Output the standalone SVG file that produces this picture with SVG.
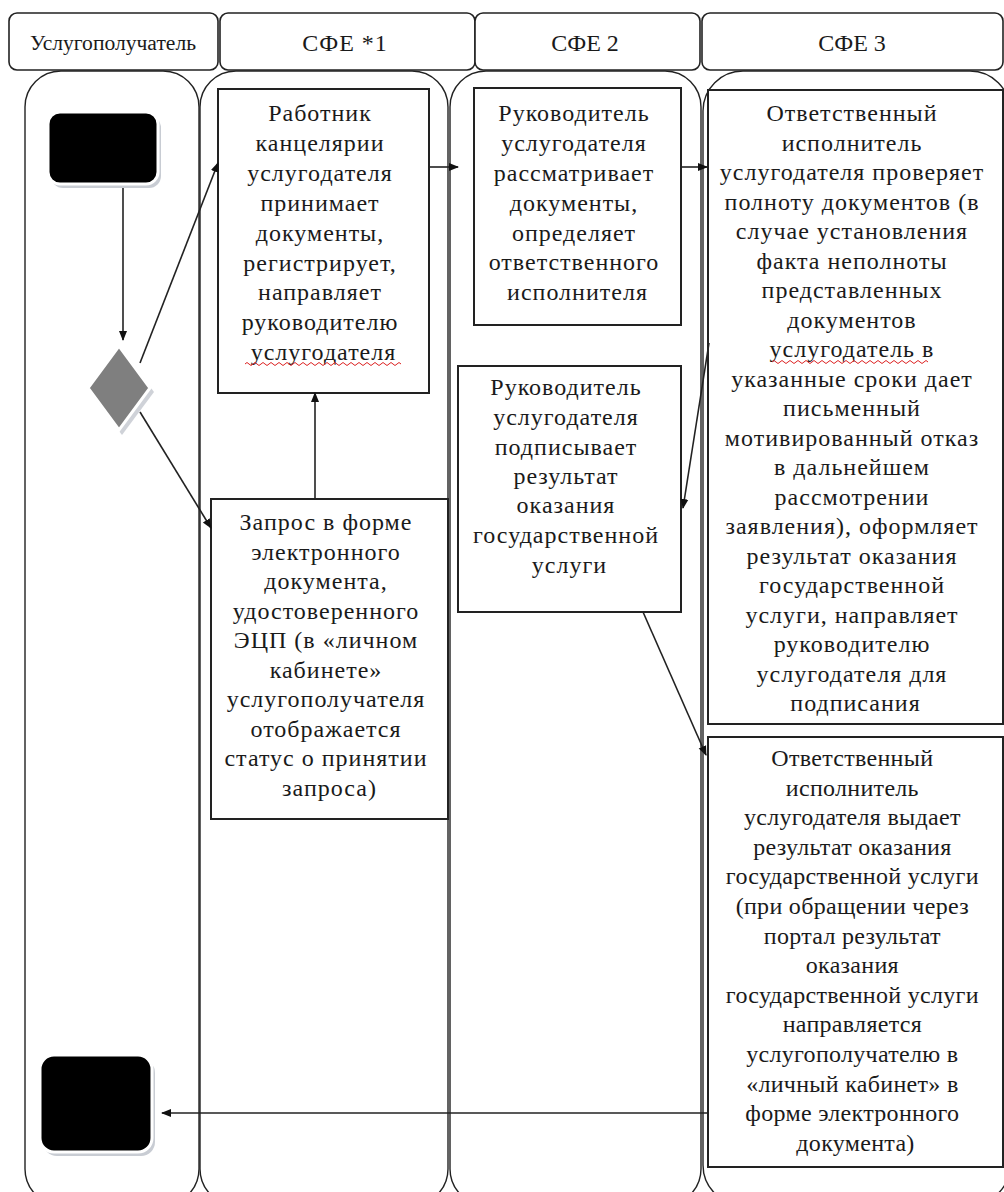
<svg xmlns="http://www.w3.org/2000/svg" width="1004" height="1192" viewBox="0 0 1004 1192">
<style>
.hdr{fill:#fff;stroke:#222;stroke-width:1.6}
.lane{fill:none;stroke:#222;stroke-width:1.4}
.box{fill:#fff;stroke:#222;stroke-width:2}
.ht{font-family:'Liberation Serif',serif;font-size:24px;fill:#1a1a1a;text-anchor:middle}
.t{font-family:'Liberation Serif',serif;font-size:24px;fill:#1a1a1a;text-anchor:middle;letter-spacing:1px}
.c{fill:none;stroke:#222;stroke-width:1.6}
.sq{fill:none;stroke:#d22;stroke-width:1}
</style>
<defs>
<marker id="ah" viewBox="0 0 10 10" refX="9" refY="5" markerWidth="10" markerHeight="10" markerUnits="userSpaceOnUse" orient="auto">
<path d="M0,1 L10,5 L0,9 z" fill="#111"/>
</marker>
</defs>
<rect width="1004" height="1192" fill="#fff"/>

<g id="lanes">
<rect class="lane" x="25" y="71" width="174" height="1134" rx="36" ry="36"/>
<rect class="lane" x="200" y="71" width="248" height="1134" rx="36" ry="36"/>
<rect class="lane" x="450" y="71" width="251" height="1134" rx="36" ry="36"/>
<rect class="lane" x="703" y="71" width="307" height="1134" rx="40" ry="40"/>
</g>

<g id="headers">
<g id="h1"><rect class="hdr" x="9" y="13" width="209" height="57" rx="8"/><text class="ht" x="113" y="50" style="font-size:20px" textLength="166" lengthAdjust="spacingAndGlyphs">Услугополучатель</text></g>
<g id="h2"><rect class="hdr" x="220" y="13" width="255" height="57" rx="8"/><text class="ht" x="345" y="51" letter-spacing="1">СФЕ *1</text></g>
<g id="h3"><rect class="hdr" x="475" y="13" width="225" height="57" rx="8"/><text class="ht" x="585" y="51">СФЕ 2</text></g>
<g id="h4"><rect class="hdr" x="702" y="13" width="301" height="57" rx="8"/><text class="ht" x="852" y="51">СФЕ 3</text></g>
</g>

<g id="start">
<rect x="51" y="116" width="110" height="72" rx="12" fill="#c8ccd3"/>
<rect x="48" y="112" width="110" height="72" rx="12" fill="#000" stroke="#fff" stroke-width="3"/>
</g>

<g id="decision">
<polygon points="122,349 154,392 122,435 90,392" fill="#cfd2d8"/>
<polygon points="119,346 150,388 119,430 88,388" fill="#7f7f7f" stroke="#fff" stroke-width="3"/>
</g>

<g id="end">
<rect x="43" y="1059" width="112" height="97" rx="14" fill="#c8ccd3"/>
<rect x="40" y="1055" width="112" height="97" rx="14" fill="#000" stroke="#fff" stroke-width="3"/>
</g>

<g id="box1">
<rect class="box" x="218" y="89" width="211" height="304"/>
<text class="t">
<tspan x="323.5" y="121">Работник</tspan>
<tspan x="323.5" y="151">канцелярии</tspan>
<tspan x="323.5" y="181">услугодателя</tspan>
<tspan x="323.5" y="211">принимает</tspan>
<tspan x="323.5" y="241">документы,</tspan>
<tspan x="323.5" y="271">регистрирует,</tspan>
<tspan x="323.5" y="300">направляет</tspan>
<tspan x="323.5" y="330">руководителю</tspan>
<tspan x="323.5" y="360">услугодателя</tspan>
</text>
<path class="sq" d="M245,364 q2,-3 4,0 t4,0 t4,0 t4,0 t4,0 t4,0 t4,0 t4,0 t4,0 t4,0 t4,0 t4,0 t4,0 t4,0 t4,0 t4,0 t4,0 t4,0 t4,0 t4,0 t4,0 t4,0 t4,0 t4,0 t4,0 t4,0 t4,0 t4,0 t4,0 t4,0 t4,0 t4,0 t4,0 t4,0 t4,0 t4,0 t4,0 t4,0 t4,0"/>
</g>

<g id="box2">
<rect class="box" x="474" y="88" width="207" height="237"/>
<text class="t">
<tspan x="577.5" y="121">Руководитель</tspan>
<tspan x="577.5" y="151">услугодателя</tspan>
<tspan x="577.5" y="181">рассматривает</tspan>
<tspan x="577.5" y="211">документы,</tspan>
<tspan x="577.5" y="241">определяет</tspan>
<tspan x="577.5" y="270">ответственного</tspan>
<tspan x="577.5" y="300">исполнителя</tspan>
</text>
</g>

<g id="box3">
<rect class="box" x="708" y="90" width="295" height="634"/>
<text class="t">
<tspan x="855.5" y="121">Ответственный</tspan>
<tspan x="855.5" y="150.5">исполнитель</tspan>
<tspan x="855.5" y="180">услугодателя проверяет</tspan>
<tspan x="855.5" y="209.5">полноту документов (в</tspan>
<tspan x="855.5" y="239">случае установления</tspan>
<tspan x="855.5" y="268.5">факта неполноты</tspan>
<tspan x="855.5" y="298">представленных</tspan>
<tspan x="855.5" y="327.5">документов</tspan>
<tspan x="855.5" y="357">услугодатель в</tspan>
<tspan x="855.5" y="386.5">указанные сроки дает</tspan>
<tspan x="855.5" y="416">письменный</tspan>
<tspan x="855.5" y="445.5">мотивированный отказ</tspan>
<tspan x="855.5" y="475">в дальнейшем</tspan>
<tspan x="855.5" y="504.5">рассмотрении</tspan>
<tspan x="855.5" y="534">заявления), оформляет</tspan>
<tspan x="855.5" y="563.5">результат оказания</tspan>
<tspan x="855.5" y="593">государственной</tspan>
<tspan x="855.5" y="622.5">услуги, направляет</tspan>
<tspan x="855.5" y="652">руководителю</tspan>
<tspan x="855.5" y="681.5">услугодателя для</tspan>
<tspan x="855.5" y="711">подписания</tspan>
</text>
<path class="sq" d="M772,362 q2,-3 4,0 t4,0 t4,0 t4,0 t4,0 t4,0 t4,0 t4,0 t4,0 t4,0 t4,0 t4,0 t4,0 t4,0 t4,0 t4,0 t4,0 t4,0 t4,0 t4,0 t4,0 t4,0 t4,0 t4,0 t4,0 t4,0 t4,0 t4,0 t4,0 t4,0 t4,0 t4,0 t4,0 t4,0 t4,0 t4,0 t4,0 t4,0 t4,0"/>
</g>

<g id="box_sign">
<rect class="box" x="458" y="366" width="223" height="246"/>
<text class="t">
<tspan x="569.5" y="395">Руководитель</tspan>
<tspan x="569.5" y="425">услугодателя</tspan>
<tspan x="569.5" y="455">подписывает</tspan>
<tspan x="569.5" y="484">результат</tspan>
<tspan x="569.5" y="513">оказания</tspan>
<tspan x="569.5" y="543">государственной</tspan>
<tspan x="569.5" y="573">услуги</tspan>
</text>
</g>

<g id="box_request">
<rect class="box" x="211" y="499" width="237" height="320"/>
<text class="t">
<tspan x="329.5" y="530">Запрос в форме</tspan>
<tspan x="329.5" y="559.5">электронного</tspan>
<tspan x="329.5" y="589">документа,</tspan>
<tspan x="329.5" y="618.5">удостоверенного</tspan>
<tspan x="329.5" y="648">ЭЦП (в «личном</tspan>
<tspan x="329.5" y="677.5">кабинете»</tspan>
<tspan x="329.5" y="707">услугополучателя</tspan>
<tspan x="329.5" y="736.5">отображается</tspan>
<tspan x="329.5" y="766">статус о принятии</tspan>
<tspan x="329.5" y="795.5">запроса)</tspan>
</text>
</g>

<g id="box4">
<rect class="box" x="708" y="737" width="295" height="430"/>
<text class="t" style="letter-spacing:0.3px">
<tspan x="855.5" y="766">Ответственный</tspan>
<tspan x="855.5" y="795.6">исполнитель</tspan>
<tspan x="855.5" y="825.2">услугодателя выдает</tspan>
<tspan x="855.5" y="854.8">результат оказания</tspan>
<tspan x="855.5" y="884.4">государственной услуги</tspan>
<tspan x="855.5" y="914">(при обращении через</tspan>
<tspan x="855.5" y="943.6">портал результат</tspan>
<tspan x="855.5" y="973.2">оказания</tspan>
<tspan x="855.5" y="1002.8">государственной услуги</tspan>
<tspan x="855.5" y="1032.4">направляется</tspan>
<tspan x="855.5" y="1062">услугополучателю в</tspan>
<tspan x="855.5" y="1091.6">«личный кабинет» в</tspan>
<tspan x="855.5" y="1121.2">форме электронного</tspan>
<tspan x="855.5" y="1150.8">документа)</tspan>
</text>
</g>

<g id="connectors">
<path class="c" d="M123,188 L123,340" marker-end="url(#ah)"/>
<path class="c" d="M140,363 L218,163" marker-end="url(#ah)"/>
<path class="c" d="M140,412 L211,528" marker-end="url(#ah)"/>
<path class="c" d="M315,499 L315,393" marker-end="url(#ah)"/>
<path class="c" d="M429,167 L458,167" marker-end="url(#ah)"/>
<path class="c" d="M681,167 L707,167" marker-end="url(#ah)"/>
<path class="c" d="M709,343 L683,508" marker-end="url(#ah)"/>
<path class="c" d="M643,612 L706,755" marker-end="url(#ah)"/>
<path class="c" d="M708,1113 L162,1113" marker-end="url(#ah)"/>
</g>
</svg>
